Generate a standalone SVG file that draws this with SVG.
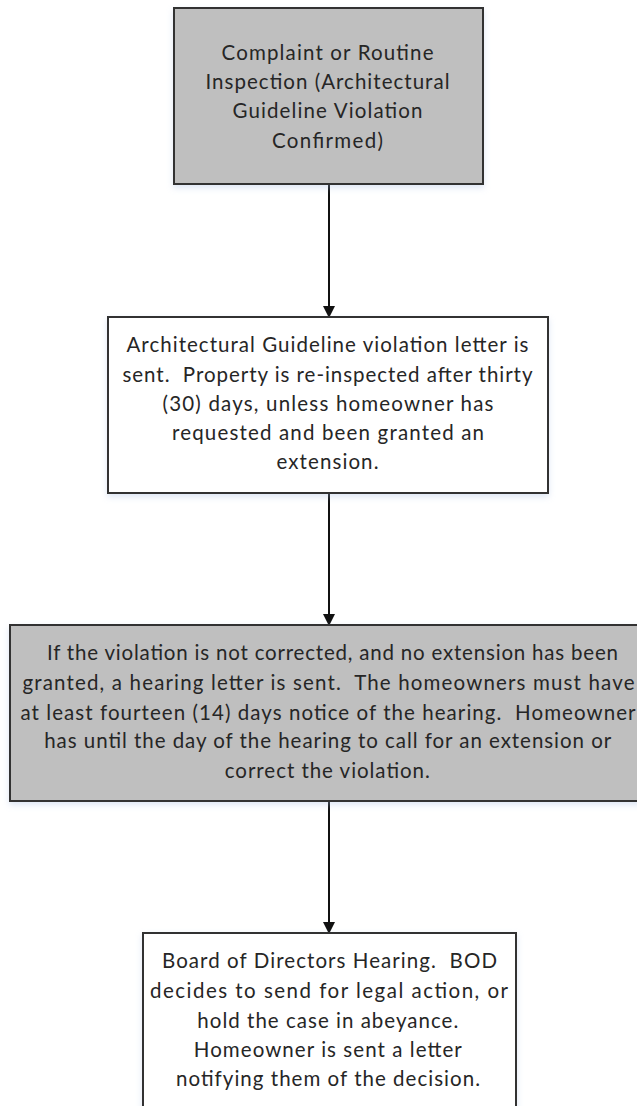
<svg xmlns="http://www.w3.org/2000/svg" width="637" height="1106" viewBox="0 0 637 1106">
<defs>
<marker id="arrow" markerWidth="12" markerHeight="12" refX="11" refY="6" orient="auto" markerUnits="userSpaceOnUse">
<path d="M0,0 L12,6 L0,12 Z" fill="#111"/>
</marker>
<filter id="sh" x="-5%" y="-5%" width="110%" height="115%">
<feGaussianBlur in="SourceAlpha" stdDeviation="3"/>
<feOffset dx="0" dy="3" result="b"/>
<feFlood flood-color="#9fb8e0" flood-opacity="0.35"/>
<feComposite in2="b" operator="in"/>
<feMerge><feMergeNode/><feMergeNode in="SourceGraphic"/></feMerge>
</filter>
</defs>
<style>
.box{stroke:#333;stroke-width:2;filter:url(#sh)}
.gray{fill:#bfbfbf}
.white{fill:#fff}
text{font-family:Lato,"Open Sans","Liberation Sans",sans-serif;font-size:20.5px;fill:#262626;text-anchor:middle}
.conn{stroke:#111;stroke-width:2;fill:none}
</style>
<rect width="637" height="1106" fill="#fff"/>
<g id="connectors">
<line class="conn" x1="329" y1="184" x2="329" y2="317" marker-end="url(#arrow)"/>
<line class="conn" x1="329" y1="493" x2="329" y2="625" marker-end="url(#arrow)"/>
<line class="conn" x1="329" y1="801" x2="329" y2="933" marker-end="url(#arrow)"/>
</g>
<g id="node1">
<rect class="box gray" x="174" y="8" width="309" height="176"/>
<text x="327.5" y="60" textLength="212" lengthAdjust="spacing">Complaint or Routine</text>
<text x="327.5" y="89" textLength="244" lengthAdjust="spacing">Inspection (Architectural</text>
<text x="327.5" y="118" textLength="190" lengthAdjust="spacing">Guideline Violation</text>
<text x="327.5" y="148" textLength="111" lengthAdjust="spacing">Confirmed)</text>
</g>
<g id="node2">
<rect class="box white" x="108" y="317" width="440" height="176"/>
<text x="327.5" y="352" textLength="402" lengthAdjust="spacing">Architectural Guideline violation letter is</text>
<text x="327.5" y="382" textLength="410" lengthAdjust="spacing" xml:space="preserve">sent.  Property is re-inspected after thirty</text>
<text x="328" y="411" textLength="331" lengthAdjust="spacing">(30) days, unless homeowner has</text>
<text x="328" y="440" textLength="312" lengthAdjust="spacing">requested and been granted an</text>
<text x="327.5" y="469" textLength="102" lengthAdjust="spacing">extension.</text>
</g>
<g id="node3">
<rect class="box gray" x="10" y="625" width="640" height="176"/>
<text x="332.5" y="660" textLength="571" lengthAdjust="spacing">If the violation is not corrected, and no extension has been</text>
<text x="328.5" y="690" textLength="612" lengthAdjust="spacing" xml:space="preserve">granted, a hearing letter is sent.  The homeowners must have</text>
<text x="328" y="720" textLength="615" lengthAdjust="spacing" xml:space="preserve">at least fourteen (14) days notice of the hearing.  Homeowner</text>
<text x="327.7" y="748" textLength="567" lengthAdjust="spacing">has until the day of the hearing to call for an extension or</text>
<text x="327.3" y="778" textLength="205" lengthAdjust="spacing">correct the violation.</text>
</g>
<g id="node4">
<rect class="box white" x="143" y="933" width="373" height="190"/>
<text x="329.5" y="968" textLength="335" lengthAdjust="spacing" xml:space="preserve">Board of Directors Hearing.  BOD</text>
<text x="329" y="998" textLength="358" lengthAdjust="spacing">decides to send for legal action, or</text>
<text x="327.8" y="1028" textLength="261" lengthAdjust="spacing">hold the case in abeyance.</text>
<text x="327.8" y="1057" textLength="268" lengthAdjust="spacing">Homeowner is sent a letter</text>
<text x="328" y="1086" textLength="304" lengthAdjust="spacing">notifying them of the decision.</text>
</g>
</svg>
